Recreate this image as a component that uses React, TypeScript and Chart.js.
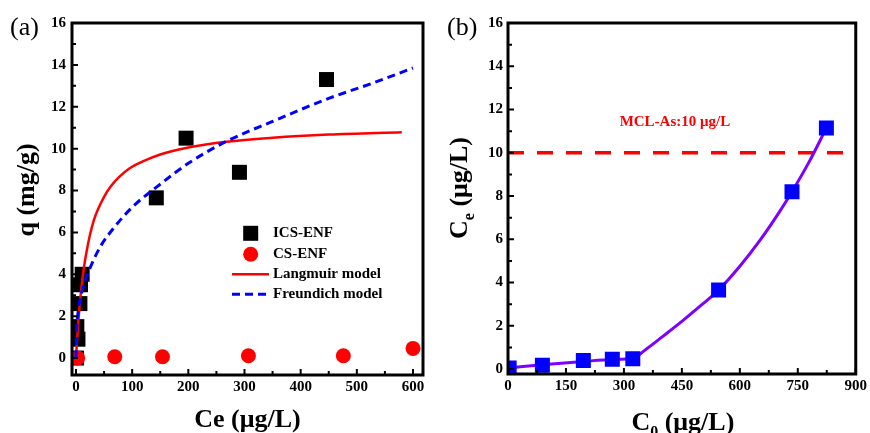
import React, { useEffect, useRef } from 'react';
import { Chart, registerables } from 'chart.js';

Chart.register(...registerables);

const SERIF = '"Liberation Serif", "Times New Roman", Times, serif';

// ---------- Panel (a) data ----------
const icsCe = [1, 3.5, 1.5, 7, 8, 11, 143, 196, 291, 446];
const icsQ = [0.0, 0.9, 1.5, 2.6, 3.5, 4.0, 7.65, 10.5, 8.87, 13.3];
const csCe = [3, 69, 154, 307, 476, 600];
const csQ = [0.0, 0.06, 0.06, 0.11, 0.11, 0.46];
const langmuirCe = [0, 2, 4, 7, 10, 14, 19, 25, 32, 40, 50, 62, 77, 95, 120, 150, 200, 268, 350, 450, 580];
const langmuirQ = [0, 0.9, 1.7, 2.65, 3.45, 4.3, 5.1, 5.9, 6.6, 7.15, 7.7, 8.2, 8.65, 9.05, 9.4, 9.72, 10.05, 10.33, 10.52, 10.67, 10.78];
const freundlichCe = [0, 1, 3, 6, 10, 15, 25, 43, 70, 100, 150, 200, 268, 350, 450, 525, 600];
const freundlichQ = [0, 1.4, 2.0, 2.6, 3.1, 3.6, 4.3, 5.3, 6.3, 7.2, 8.3, 9.3, 10.35, 11.3, 12.4, 13.1, 13.85];
const xTicksA = [0, 100, 200, 300, 400, 500, 600];
const xMinorA = [50, 150, 250, 350, 450, 550];
const yTicks = [0, 2, 4, 6, 8, 10, 12, 14, 16];
const yMinor = [1, 3, 5, 7, 9, 11, 13, 15];

// ---------- Panel (b) data ----------
const c0 = [3, 89, 195, 270, 323, 545, 735, 824];
const ceB = [0.05, 0.17, 0.39, 0.45, 0.47, 3.65, 8.2, 11.15];
const fitC0 = [3, 89, 195, 270, 323, 360, 400, 450, 500, 545, 600, 650, 700, 735, 780, 824];
const fitCe = [0.05, 0.2, 0.35, 0.44, 0.5, 0.95, 1.5, 2.2, 2.95, 3.65, 4.75, 5.9, 7.2, 8.2, 9.6, 11.15];
const mclC0 = [0, 900];
const mclCe = [10, 10];
const mclLabel = 'MCL-As:10 μg/L';
const mclLabelPos = [432, 11.4];
const xTicksB = [0, 150, 300, 450, 600, 750, 900];
const xMinorB = [75, 225, 375, 525, 675, 825];

const pts = (xs: number[], ys: number[]) => xs.map((x, i) => ({ x, y: ys[i] }));

function drawFrame(chart: any, xMajor: number[], xMinor: number[]) {
  const { ctx, chartArea: a } = chart;
  const xs = chart.scales.x;
  const ys = chart.scales.y;
  ctx.save();
  ctx.strokeStyle = '#000';
  ctx.lineWidth = 2;
  ctx.beginPath();
  for (const v of xMajor) {
    const p = xs.getPixelForValue(v);
    ctx.moveTo(p, a.bottom);
    ctx.lineTo(p, a.bottom - 6);
  }
  for (const v of xMinor) {
    const p = xs.getPixelForValue(v);
    ctx.moveTo(p, a.bottom);
    ctx.lineTo(p, a.bottom - 4);
  }
  for (const v of yTicks) {
    const p = ys.getPixelForValue(v);
    ctx.moveTo(a.left, p);
    ctx.lineTo(a.left + 6, p);
  }
  for (const v of yMinor) {
    const p = ys.getPixelForValue(v);
    ctx.moveTo(a.left, p);
    ctx.lineTo(a.left + 4, p);
  }
  ctx.stroke();
  ctx.lineWidth = 3;
  ctx.strokeRect(a.left, a.top, a.right - a.left, a.bottom - a.top);
  ctx.restore();
}

type Part = { t: string; sub?: boolean };
function drawParts(ctx: CanvasRenderingContext2D, parts: Part[], cx: number, cy: number, size: number, rotate: boolean) {
  const subSize = Math.round(size * 0.62);
  const big = `bold ${size}px ${SERIF}`;
  const small = `bold ${subSize}px ${SERIF}`;
  let total = 0;
  for (const p of parts) {
    ctx.font = p.sub ? small : big;
    total += ctx.measureText(p.t).width;
  }
  ctx.save();
  ctx.translate(cx, cy);
  if (rotate) ctx.rotate(-Math.PI / 2);
  ctx.fillStyle = '#000';
  ctx.textBaseline = 'alphabetic';
  ctx.textAlign = 'left';
  let x = -total / 2;
  for (const p of parts) {
    ctx.font = p.sub ? small : big;
    ctx.fillText(p.t, x, p.sub ? size * 0.28 : 0);
    x += ctx.measureText(p.t).width;
  }
  ctx.restore();
}

function drawPanelLabel(ctx: CanvasRenderingContext2D, text: string, x: number) {
  ctx.save();
  ctx.font = `26px ${SERIF}`;
  ctx.fillStyle = '#000';
  ctx.textBaseline = 'alphabetic';
  ctx.textAlign = 'left';
  ctx.fillText(text, x, 35);
  ctx.restore();
}

const tickFont = { family: SERIF, size: 15, weight: 'bold' as const };

function axisX(min: number, max: number, ticks: number[], h: number) {
  return {
    type: 'linear' as const,
    min,
    max,
    grid: { display: false, drawTicks: false },
    border: { display: false },
    ticks: { font: tickFont, color: '#000', padding: 3, maxRotation: 0, autoSkip: false },
    afterBuildTicks: (s: any) => {
      s.ticks = ticks.map((v) => ({ value: v }));
    },
    afterFit: (s: any) => {
      s.height = h;
    },
  };
}

function axisY(min: number, max: number, w: number, pad: number) {
  return {
    type: 'linear' as const,
    min,
    max,
    grid: { display: false, drawTicks: false },
    border: { display: false },
    ticks: { font: tickFont, color: '#000', padding: pad, autoSkip: false },
    afterBuildTicks: (s: any) => {
      s.ticks = yTicks.map((v) => ({ value: v }));
    },
    afterFit: (s: any) => {
      s.width = w;
    },
  };
}

function PanelA() {
  const ref = useRef<HTMLCanvasElement>(null);
  useEffect(() => {
    const decor = {
      id: 'decorA',
      afterDraw(chart: any) {
        const { ctx, chartArea: a } = chart;
        drawFrame(chart, xTicksA, xMinorA);
        // legend
        const ds = chart.data.datasets;
        const byLabel = (l: string) => ds.find((d: any) => d.label === l);
        ctx.save();
        ctx.font = `bold 15px ${SERIF}`;
        ctx.textBaseline = 'middle';
        ctx.textAlign = 'left';
        const mx = 250.7;
        const tx = 273;
        const ics = byLabel('ICS-ENF');
        ctx.fillStyle = ics.backgroundColor;
        ctx.fillRect(mx - 7.5, 233.3 - 7.5, 15, 15);
        const cs = byLabel('CS-ENF');
        ctx.fillStyle = cs.backgroundColor;
        ctx.beginPath();
        ctx.arc(mx, 254.3, 7.5, 0, Math.PI * 2);
        ctx.fill();
        const lg = byLabel('Langmuir model');
        ctx.strokeStyle = lg.borderColor;
        ctx.lineWidth = lg.borderWidth;
        ctx.beginPath();
        ctx.moveTo(232, 274.3);
        ctx.lineTo(269, 274.3);
        ctx.stroke();
        const fr = byLabel('Freundich model');
        ctx.strokeStyle = fr.borderColor;
        ctx.lineWidth = fr.borderWidth;
        ctx.setLineDash(fr.borderDash);
        ctx.beginPath();
        ctx.moveTo(232, 294.3);
        ctx.lineTo(269, 294.3);
        ctx.stroke();
        ctx.setLineDash([]);
        ctx.fillStyle = '#000';
        ctx.fillText(ics.label, tx, 233.3);
        ctx.fillText(cs.label, tx, 254.3);
        ctx.fillText(lg.label, tx, 274.3);
        ctx.fillText(fr.label, tx, 294.3);
        ctx.restore();
        // titles
        drawParts(ctx, [{ t: 'Ce (μg/L)' }], (a.left + a.right) / 2, 427, 26, false);
        drawParts(ctx, [{ t: 'q (mg/g)' }], 33.5, 190, 26, true);
        drawPanelLabel(ctx, '(a)', 10);
      },
    };
    const chart = new Chart(ref.current as HTMLCanvasElement, {
      type: 'scatter',
      data: {
        datasets: [
          {
            label: 'Freundich model',
            data: pts(freundlichCe, freundlichQ),
            showLine: true,
            borderColor: '#0000ff',
            borderWidth: 3,
            borderDash: [8, 5],
            pointRadius: 0,
            cubicInterpolationMode: 'monotone',
            order: 0,
          } as any,
          {
            label: 'Langmuir model',
            data: pts(langmuirCe, langmuirQ),
            showLine: true,
            borderColor: '#ff0000',
            borderWidth: 2.5,
            pointRadius: 0,
            cubicInterpolationMode: 'monotone',
            order: 1,
          },
          {
            label: 'CS-ENF',
            data: pts(csCe, csQ),
            pointStyle: 'circle',
            pointRadius: 7.5,
            backgroundColor: '#ff0000',
            borderWidth: 0,
            order: 2,
          },
          {
            label: 'ICS-ENF',
            data: pts(icsCe, icsQ),
            pointStyle: 'rect',
            pointRadius: 10.6,
            backgroundColor: '#000000',
            borderWidth: 0,
            order: 3,
          },
        ],
      },
      options: {
        animation: false,
        responsive: false,
        maintainAspectRatio: false,
        events: [],
        layout: { padding: { left: 0, right: 12, top: 23, bottom: 0 } },
        plugins: { legend: { display: false }, tooltip: { enabled: false } },
        scales: {
          x: axisX(-7.1, 617.8, xTicksA, 58) as any,
          y: axisY(-0.81, 16, 72, 6) as any,
        },
      },
      plugins: [decor],
    });
    return () => chart.destroy();
  }, []);
  return <canvas ref={ref} width={435} height={433} style={{ position: 'absolute', left: 0, top: 0, width: 435, height: 433 }} />;
}

function PanelB() {
  const ref = useRef<HTMLCanvasElement>(null);
  useEffect(() => {
    const decor = {
      id: 'decorB',
      afterDraw(chart: any) {
        const { ctx, chartArea: a } = chart;
        drawFrame(chart, xTicksB, xMinorB);
        ctx.save();
        ctx.font = `bold 15px ${SERIF}`;
        ctx.fillStyle = '#ff0000';
        ctx.textAlign = 'center';
        ctx.textBaseline = 'middle';
        ctx.fillText(mclLabel, chart.scales.x.getPixelForValue(mclLabelPos[0]), chart.scales.y.getPixelForValue(mclLabelPos[1]));
        ctx.restore();
        drawParts(ctx, [{ t: 'C' }, { t: '0', sub: true }, { t: ' (μg/L)' }], (a.left + a.right) / 2 + 1, 430, 26, false);
        drawParts(ctx, [{ t: 'C' }, { t: 'e', sub: true }, { t: ' (μg/L)' }], 32, 188, 26, true);
        drawPanelLabel(ctx, '(b)', 12);
      },
    };
    const chart = new Chart(ref.current as HTMLCanvasElement, {
      type: 'scatter',
      data: {
        datasets: [
          {
            label: 'Ce',
            data: pts(c0, ceB),
            pointStyle: 'rect',
            pointRadius: 10.6,
            backgroundColor: '#0000ff',
            borderWidth: 0,
            order: 0,
          },
          {
            label: 'fit',
            data: pts(fitC0, fitCe),
            showLine: true,
            borderColor: '#7f00ff',
            borderWidth: 3,
            pointRadius: 0,
            cubicInterpolationMode: 'monotone',
            order: 1,
          } as any,
          {
            label: 'MCL',
            data: pts(mclC0, mclCe),
            showLine: true,
            borderColor: '#ff0000',
            borderWidth: 3.5,
            borderDash: [16, 13],
            pointRadius: 0,
            order: 2,
          },
        ],
      },
      options: {
        animation: false,
        responsive: false,
        maintainAspectRatio: false,
        events: [],
        layout: { padding: { left: 0, right: 11, top: 23, bottom: 0 } },
        plugins: { legend: { display: false }, tooltip: { enabled: false } },
        scales: {
          x: axisX(0, 900, xTicksB, 59) as any,
          y: axisY(-0.23, 16, 73, 5) as any,
        },
      },
      plugins: [decor],
    });
    return () => chart.destroy();
  }, []);
  return <canvas ref={ref} width={435} height={433} style={{ position: 'absolute', left: 435, top: 0, width: 435, height: 433 }} />;
}

export default function App() {
  return (
    <div style={{ position: 'fixed', left: 0, top: 0, width: 870, height: 433, background: '#fff', overflow: 'hidden' }}>
      <PanelA />
      <PanelB />
    </div>
  );
}
